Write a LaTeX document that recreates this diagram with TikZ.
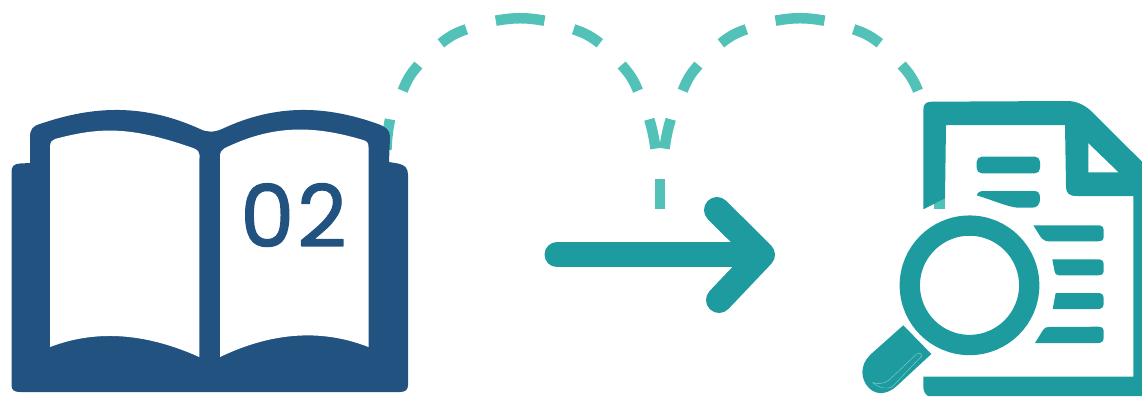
\documentclass[tikz,border=0pt]{standalone}
\usepackage{fontspec}
\newfontfamily\numfont{Poppins}
\definecolor{bookblue}{HTML}{22527F}
\definecolor{docteal}{HTML}{1D9B9E}
\definecolor{dashteal}{HTML}{52C2B9}
\tikzset{
  dashseg/.style={draw=dashteal,line width=10.5pt},
  bookfill/.style={fill=bookblue},
  pagefill/.style={fill=white},
  docfill/.style={fill=docteal},
  arrowline/.style={draw=docteal,line width=25pt,line cap=round,line join=round},
  headline/.style={draw=docteal,line width=26pt,line cap=round,line join=round},
  seg/.style={dashseg,bend left=10}
}
\begin{document}
\begin{tikzpicture}[x=1pt,y=-1pt]
\useasboundingbox (0,0) rectangle (1142,396);
% dashed arcs
\draw[seg] (386.4,150) to[bend left=4] (390,119.3);
\draw[seg] (402.7,90.7) to (418.4,65);
\draw[seg] (440.9,43.3) to (466.4,29.3);
\draw[seg] (495.8,20.7) to (544.5,20.7);
\draw[seg] (573.6,29.3) to (599.8,43.3);
\draw[seg] (621.6,65) to (638,90.7);
\draw[seg] (649.3,119.3) to[bend left=4] (655.5,148.6);
\draw[seg] (664.5,148.6) to[bend left=4] (670.7,119.3);
\draw[seg] (682.7,90.7) to (698.4,65);
\draw[seg] (720.9,43.3) to (746.4,29.3);
\draw[seg] (775.5,20.7) to (824.5,20.7);
\draw[seg] (853.6,29.3) to (879.8,43.3);
\draw[seg] (901.6,65) to (918,90.7);
\draw[dashseg] (660,179) -- (660,209);
\draw[dashseg] (939.5,180) -- (939.5,209);
% book
\fill[bookfill] (30,163) -- (30,137) .. controls (30,129) and (33,126) .. (40,124)
  .. controls (95,105) and (145,104) .. (200,129)
  .. controls (207,132.5) and (214,132.5) .. (222,129)
  .. controls (275,104) and (325,105) .. (378,124)
  .. controls (386,127) and (390,130) .. (390,137)
  -- (389,162) -- (398,163.5) .. controls (405,165) and (408,168) .. (408,175)
  -- (408,385) .. controls (408,390) and (405,392) .. (400,392)
  -- (20,392) .. controls (14,392) and (11.5,390) .. (11.5,385)
  -- (11.5,172) .. controls (11.5,166) and (14,164) .. (20,163.5) -- cycle;
\fill[pagefill] (50,347) -- (50,147) .. controls (50,142) and (52,140) .. (55,139)
  .. controls (100,127) and (130,126) .. (193,148)
  .. controls (198,150) and (199.5,152) .. (199.5,155)
  -- (199.3,357) .. controls (150,335) and (100,328) .. (50,347) -- cycle;
\fill[pagefill] (220,357) -- (220,157) .. controls (220,153) and (221,150) .. (224,148.5)
  .. controls (270,126) and (310,124) .. (363,140)
  .. controls (367,141) and (368.5,143) .. (368.5,147)
  -- (368.5,347) .. controls (320,328) and (270,333) .. (220,357) -- cycle;
\node[text=bookblue,inner sep=0pt,anchor=center] (num) at (293.5,215)
  {\numfont\fontsize{86}{86}\selectfont\special{pdf:code q 2 Tr 1 j 1 J 1.2 w}0\kern3pt 2\special{pdf:code Q}};
% arrow
\draw[arrowline] (557,254.7) -- (760,254.7);
\draw[headline] (717,210) -- (762,254.7) -- (719,300);
% document
\fill[docfill] (923.3,209.3) -- (923.3,110) .. controls (923.3,104) and (926,101.7) .. (931.7,101.7)
  -- (1066.7,101) .. controls (1078,101) and (1087,106) .. (1095,115)
  -- (1142,161.7) -- (1142,396) -- (928,396) .. controls (925,394) and (923.3,391) .. (923.3,386.7)
  -- (923.3,376.7) -- (1133.3,376.7) -- (1133.3,196) -- (1076.7,196)
  .. controls (1069,196) and (1066,193) .. (1066,186.7)
  -- (1065,125) -- (946,125) -- (945,198.3) -- cycle;
\fill[pagefill] (1088.3,143.3) -- (1118.3,172.3) -- (1088.3,172.3) -- cycle;
\fill[docfill,rounded corners=5pt] (976.7,156.7) rectangle (1040,173.3);
\fill[docfill] (976.7,195.3) .. controls (978,192) and (980,191) .. (984,191) -- (1034,191)
  .. controls (1038,191) and (1040,193) .. (1040,198) .. controls (1040,205) and (1037,207.7) .. (1032,207.7)
  -- (1018,207.7) .. controls (1008,207) and (995,201) .. (976.7,195.3) -- cycle;
\fill[docfill] (1033.3,225.3) -- (1098,225.3) .. controls (1102,225.3) and (1103.7,227) .. (1103.7,231)
  -- (1103.7,236) .. controls (1103.7,240) and (1102,241.3) .. (1098,241.3)
  -- (1048,241.3) .. controls (1045,241.3) and (1042,239) .. (1040,236) -- cycle;
\fill[docfill] (1052.3,259.3) -- (1098,259.3) .. controls (1102,259.3) and (1103.7,261) .. (1103.7,265)
  -- (1103.7,270) .. controls (1103.7,274) and (1102,275.3) .. (1098,275.3)
  -- (1059,275.3) .. controls (1056,275.3) and (1055,274) .. (1054.5,271) -- cycle;
\fill[docfill] (1055.7,293) -- (1098,293) .. controls (1102,293) and (1103.7,295) .. (1103.7,299)
  -- (1103.7,303) .. controls (1103.7,307) and (1102,309) .. (1098,309) -- (1052.7,309) -- cycle;
\fill[docfill] (1035,343) -- (1043,330) .. controls (1045,327.5) and (1046,327) .. (1049,327)
  -- (1098,326.7) .. controls (1102,326.7) and (1103.7,328) .. (1103.7,332)
  -- (1103.7,337) .. controls (1103.7,341) and (1102,343) .. (1098,343) -- cycle;
% magnifier
\draw[draw=docteal,line width=20.3pt] (969.5,285.3) circle (59.7);
\fill[docfill] (903.3,325.3) -- (931.3,354) -- (896.7,386)
  .. controls (888,394) and (877,396) .. (869,388)
  .. controls (860,379) and (860,365) .. (870,355) -- cycle;
\draw[draw=dashteal!70!white,line width=0.4pt] (872.7,382.7) .. controls (878,384) and (884,384) .. (889,380)
  -- (916.7,354) .. controls (919,352.5) and (922,353) .. (921.7,356)
  -- (892,387) .. controls (888,389) and (880,389) .. (872.7,382.7) -- cycle;
\end{tikzpicture}
\end{document}
